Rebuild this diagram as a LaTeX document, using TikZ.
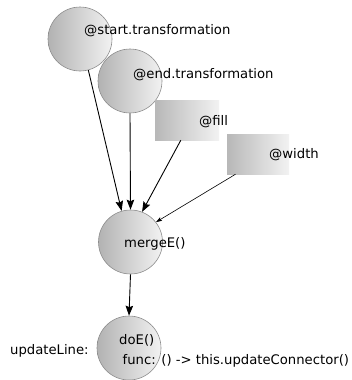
\documentclass[tikz,border=0pt]{standalone}
\usepackage{fontspec}
\setmainfont{DejaVu Sans}
\usetikzlibrary{arrows.meta,shapes.geometric}
\begin{document}
\begin{tikzpicture}[x=1pt,y=-1pt,
  ball/.style={circle,draw=black!45,line width=0.6pt,minimum size=64pt,inner sep=0pt,
    left color=black!30,right color=black!5},
  box/.style={rectangle,draw=none,inner sep=0pt,minimum width=64pt,minimum height=40pt,
    left color=black!28,right color=black!5},
  lbl/.style={anchor=base west,inner sep=0pt,font=\fontsize{13.2}{15}\selectfont},
  conn/.style={line width=0.9pt,-{Stealth[length=10pt,width=7.5pt,inset=1.5pt]}},
  thinconn/.style={line width=0.6pt,-{Stealth[length=6pt,width=4pt,inset=1pt]}}]
\useasboundingbox (0,0) rectangle (351,380);
\node[ball] (start) at (80,39) {};
\node[ball] (end) at (130,81) {};
\node[box] (fill) at (187,120) {};
\node[box,minimum width=62pt] (width) at (258,154) {};
\node[ball] (merge) at (130.5,242) {};
\node[ball] (doe) at (129,348) {};
\node[lbl] (tstart) at (84,34.5) {@start.transformation};
\node[lbl] (tend) at (133,78) {@end.transformation};
\node[lbl] (tfill) at (199,125) {@fill};
\node[lbl] (twidth) at (269,158) {@width};
\node[lbl] (tmerge) at (124,247) {mergeE()};
\node[lbl] (tdoe) at (119,344) {doE()};
\node[lbl] (tfunc) at (122.5,364) {func: () -> this.updateConnector()};
\node[lbl] (tupd) at (10,354) {updateLine:};
\draw[conn] (start.-75) -- (merge.106);
\draw[conn] (end.south) -- (merge.north);
\draw[conn] (fill.-107) -- (merge.69);
\draw[thinconn] (width.-138) -- (merge.38);
\draw[conn] (merge.south) -- (doe.north);
\end{tikzpicture}
\end{document}
